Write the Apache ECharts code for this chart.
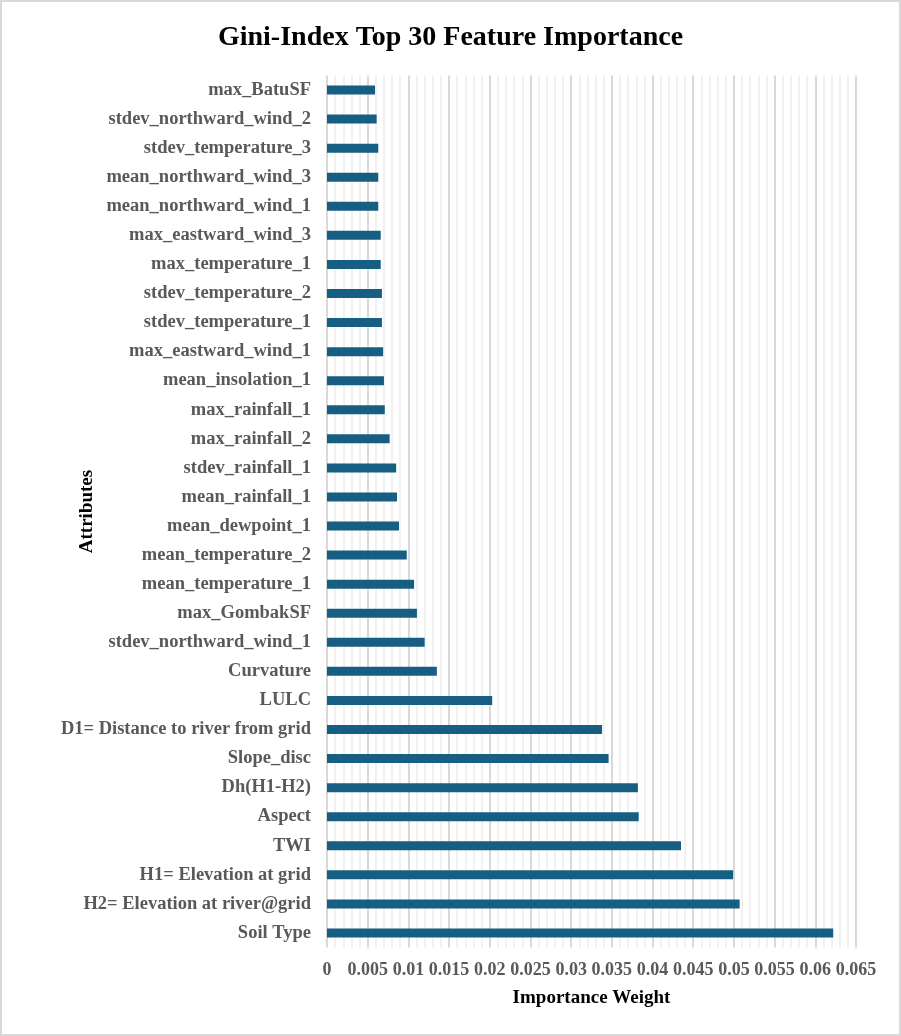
<!DOCTYPE html>
<html>
<head>
<meta charset="utf-8">
<script src="https://cdn.jsdelivr.net/npm/echarts@6/dist/echarts.min.js"></script>
<style>
	html, body { margin: 0; padding: 0; background: #fff; }
	#main { position: absolute; left: 0; top: 0; width: 901px; height: 1036px; }
	#frame { position: absolute; left: 0; top: 0; width: 901px; height: 1036px; box-sizing: border-box; border: 2px solid #d9d9d9; pointer-events: none; }
</style>
</head>
<body>
<div id="main"></div>
<div id="frame"></div>
<script>
// 属性名（从上到下）
var attributes = ['max_BatuSF', 'stdev_northward_wind_2', 'stdev_temperature_3', 'mean_northward_wind_3',
	'mean_northward_wind_1', 'max_eastward_wind_3', 'max_temperature_1', 'stdev_temperature_2',
	'stdev_temperature_1', 'max_eastward_wind_1', 'mean_insolation_1', 'max_rainfall_1', 'max_rainfall_2',
	'stdev_rainfall_1', 'mean_rainfall_1', 'mean_dewpoint_1', 'mean_temperature_2', 'mean_temperature_1',
	'max_GombakSF', 'stdev_northward_wind_1', 'Curvature', 'LULC', 'D1= Distance to river from grid',
	'Slope_disc', 'Dh(H1-H2)', 'Aspect', 'TWI', 'H1= Elevation at grid', 'H2= Elevation at river@grid', 'Soil Type']
// 重要性权重
var weights = [0.0059, 0.0061, 0.0063, 0.0063, 0.0063, 0.0066, 0.0066, 0.00675, 0.00675, 0.0069, 0.0070, 0.0071,
	0.0077, 0.0085, 0.0086, 0.00885, 0.0098, 0.0107, 0.01105, 0.0120, 0.0135, 0.0203, 0.0338, 0.0346, 0.0382,
	0.0383, 0.0435, 0.0499, 0.0507, 0.0622]
var xMin = 0, xMax = 0.065, xStep = 0.005

var font = '"Liberation Serif", "Times New Roman", serif'
var myChart = echarts.init(document.getElementById('main'));
var option = {
	animation: false,
	title: {
		text: 'Gini-Index Top 30 Feature Importance',
		left: 'center',
		top: 19,
		textStyle: { fontFamily: font, fontSize: 28, fontWeight: 'bold', color: '#000' }
	},
	grid: { left: 327, right: 45, top: 75.5, bottom: 88.5, containLabel: false },
	xAxis: {
		type: 'value',
		min: xMin,
		max: xMax,
		interval: xStep,
		name: 'Importance Weight',
		nameLocation: 'middle',
		nameGap: 41,
		nameMoveOverlap: false,
		nameTextStyle: { fontFamily: font, fontSize: 19, fontWeight: 'bold', color: '#000' },
		axisLine: { show: false },
		axisTick: { show: false },
		axisLabel: { fontFamily: font, fontSize: 18, fontWeight: 'bold', color: '#595959', margin: 14 },
		splitLine: { show: true, lineStyle: { color: '#d9d9d9', width: 2 } },
		minorTick: { show: false, splitNumber: 5 },
		minorSplitLine: { show: true, lineStyle: { color: '#ededed', width: 1.5 } }
	},
	yAxis: {
		type: 'category',
		data: attributes,
		inverse: true,
		name: 'Attributes',
		nameLocation: 'middle',
		nameGap: 230,
		nameMoveOverlap: false,
		nameTextStyle: { fontFamily: font, fontSize: 19, fontWeight: 'bold', color: '#000' },
		axisLine: { show: false },
		axisTick: { show: false },
		axisLabel: { fontFamily: font, fontSize: 18.5, fontWeight: 'bold', color: '#595959', margin: 16, interval: 0 }
	},
	series: [{
		type: 'bar',
		data: weights,
		barWidth: 9,
		itemStyle: { color: '#175f82' }
	}]
};
myChart.setOption(option, true);
</script>
</body>
</html>
